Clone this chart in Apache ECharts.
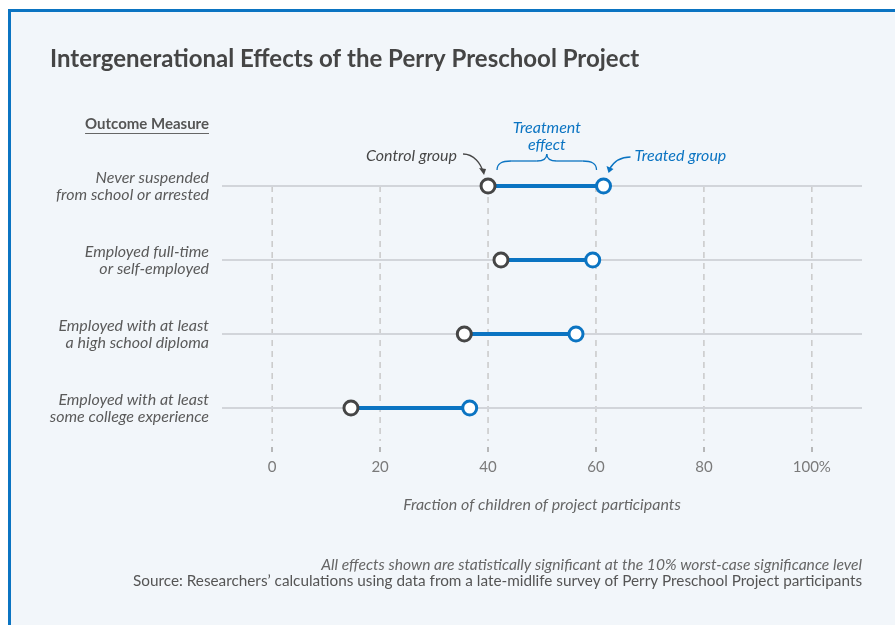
<!DOCTYPE html>
<html><head><meta charset="utf-8">
<script src="https://cdn.jsdelivr.net/npm/echarts@6/dist/echarts.min.js"></script>
<style>html,body{margin:0;padding:0;background:#fff}#chart{width:895px;height:625px}</style>
</head><body><div id="chart"></div>
<script>
const FONT = 'Lato';
const titleText = 'Intergenerational Effects of the Perry Preschool Project';
const categories = [
  'Never suspended\nfrom school or arrested',
  'Employed full-time\nor self-employed',
  'Employed with at least\na high school diploma',
  'Employed with at least\nsome college experience'
];
const controlValues = [40, 42.4, 35.6, 14.6];
const treatedValues = [61.4, 59.4, 56.3, 36.6];
const tickValues = [0, 20, 40, 60, 80, 100];
const tickLabels = ['0', '20', '40', '60', '80', '100%'];
const axisName = 'Fraction of children of project participants';
const footnote1 = 'All effects shown are statistically significant at the 10% worst-case significance level';
const footnote2 = 'Source: Researchers\u2019 calculations using data from a late-midlife survey of Perry Preschool Project participants';

const BLUE = '#0b74c2';
const DARK = '#464646';

const chart = echarts.init(document.getElementById('chart'));
const option = {
  animation: false,
  textStyle: { fontFamily: FONT },
  title: {
    text: titleText, left: 45, top: 42,
    textStyle: { fontFamily: FONT, fontSize: 24, fontWeight: 'bold', color: '#454545' }
  },
  grid: { left: 222, right: 33, top: 149, height: 296 },
  xAxis: {
    type: 'value', min: -9.3, max: 109.3, offset: 2,
    axisLine: { lineStyle: { color: '#a3a3a3', width: 2 } },
    axisTick: { show: true, customValues: tickValues, length: 5, lineStyle: { color: '#a3a3a3', width: 1.5 } },
    axisLabel: {
      customValues: tickValues, margin: 13,
      formatter: v => tickLabels[tickValues.indexOf(v)],
      color: '#7a7a7a', fontSize: 15, fontFamily: FONT
    },
    splitLine: { show: false },
    name: axisName, nameLocation: 'middle', nameGap: 50,
    nameTextStyle: { fontStyle: 'italic', color: '#666', fontSize: 16, fontFamily: FONT }
  },
  yAxis: {
    type: 'category', data: categories, inverse: true,
    axisLine: { show: false }, axisTick: { show: false }, splitLine: { show: false },
    axisLabel: {
      margin: 13, align: 'right', lineHeight: 17,
      fontStyle: 'italic', color: '#5a5a5a', fontSize: 16, fontFamily: FONT
    }
  },
  series: [
    {
      type: 'custom', z: 1, silent: true,
      data: tickValues.map(v => [v]),
      renderItem: (params, api) => {
        const top = api.coord([api.value(0), 0]);
        const cs = params.coordSys;
        return { type: 'line', shape: { x1: top[0], y1: top[1], x2: top[0], y2: cs.y + cs.height - 4 },
          style: { stroke: '#c9c9c9', lineWidth: 1.5, lineDash: [6, 5] } };
      }
    },
    {
      type: 'custom', z: 2, silent: true,
      data: categories.map((c, i) => [i]),
      renderItem: (params, api) => {
        const p = api.coord([0, api.value(0)]);
        const cs = params.coordSys;
        return { type: 'line', shape: { x1: cs.x, y1: p[1], x2: cs.x + cs.width, y2: p[1] },
          style: { stroke: '#d2d5da', lineWidth: 2 } };
      }
    },
    {
      type: 'custom', z: 3, silent: true,
      data: categories.map((c, i) => [controlValues[i], treatedValues[i], i]),
      renderItem: (params, api) => {
        const a = api.coord([api.value(0), api.value(2)]);
        const b = api.coord([api.value(1), api.value(2)]);
        return { type: 'line', shape: { x1: a[0], y1: a[1], x2: b[0], y2: b[1] },
          style: { stroke: BLUE, lineWidth: 4 } };
      }
    },
    {
      type: 'scatter', z: 4, symbol: 'circle', symbolSize: 14,
      data: controlValues.map((v, i) => [v, i]),
      itemStyle: { color: '#fff', borderColor: DARK, borderWidth: 3, opacity: 1 }
    },
    {
      type: 'scatter', z: 4, symbol: 'circle', symbolSize: 14,
      data: treatedValues.map((v, i) => [v, i]),
      itemStyle: { color: '#fff', borderColor: BLUE, borderWidth: 3, opacity: 1 }
    }
  ]
};
chart.setOption(option);

// annotations positioned from the data coordinates
const pc = chart.convertToPixel({ gridIndex: 0 }, [controlValues[0], 0]);
const pt = chart.convertToPixel({ gridIndex: 0 }, [treatedValues[0], 0]);
const gridRect = chart.getModel().getComponent('grid').coordinateSystem.getRect();
const labelRight = gridRect.x - 13;

const ctx = document.createElement('canvas').getContext('2d');
ctx.font = 'bold 15px ' + FONT;
const hdrW = ctx.measureText('Outcome Measure').width;

const bx1 = pc[0] + 9, bx2 = pt[0] - 7, bm = (bx1 + bx2) / 2, by = pc[1] - 16;
const braceStyle = { stroke: BLUE, lineWidth: 1.3, fill: null };
const bez = (x1, y1, c1x, c1y, c2x, c2y, x2, y2) => ({ type: 'bezierCurve',
  shape: { x1, y1, cpx1: c1x, cpy1: c1y, cpx2: c2x, cpy2: c2y, x2, y2 }, style: braceStyle });
const graphic = [
  { type: 'rect', z: -10, shape: { x: 9.5, y: 10.5, width: 900, height: 700 },
    style: { fill: '#f2f6fa', stroke: BLUE, lineWidth: 3 } },
  { type: 'text', x: labelRight, y: 124, style: { text: 'Outcome Measure', align: 'right', verticalAlign: 'middle',
      font: 'bold 15px ' + FONT, fill: '#555' } },
  { type: 'line', shape: { x1: labelRight - hdrW, y1: 133.5, x2: labelRight, y2: 133.5 }, style: { stroke: '#666', lineWidth: 1 } },
  // control group
  { type: 'text', x: pc[0] - 31, y: pc[1] - 30, style: { text: 'Control group', align: 'right', verticalAlign: 'middle',
      font: 'italic 16px ' + FONT, fill: DARK } },
  { type: 'bezierCurve', shape: { x1: pc[0] - 25, y1: pc[1] - 32, cpx1: pc[0] - 14, cpy1: pc[1] - 32, cpx2: pc[0] - 7, cpy2: pc[1] - 22, x2: pc[0] - 5, y2: pc[1] - 14 },
    style: { stroke: DARK, lineWidth: 1.3, fill: null } },
  { type: 'polygon', shape: { points: [[pc[0] - 4, pc[1] - 11], [pc[0] - 9, pc[1] - 18], [pc[0] - 2, pc[1] - 17]] }, style: { fill: DARK } },
  // treated group
  { type: 'text', x: pt[0] + 31, y: pc[1] - 30, style: { text: 'Treated group', align: 'left', verticalAlign: 'middle',
      font: 'italic 16px ' + FONT, fill: BLUE } },
  { type: 'bezierCurve', shape: { x1: pt[0] + 27, y1: pt[1] - 29, cpx1: pt[0] + 16, cpy1: pt[1] - 29, cpx2: pt[0] + 10, cpy2: pt[1] - 24, x2: pt[0] + 6, y2: pt[1] - 17 },
    style: { stroke: BLUE, lineWidth: 1.3, fill: null } },
  { type: 'polygon', shape: { points: [[pt[0] + 5, pt[1] - 13], [pt[0] + 3, pt[1] - 20], [pt[0] + 10, pt[1] - 17]] }, style: { fill: BLUE } },
  // treatment effect brace
  bez(bx1, by, bx1, by - 7, bx1 + 5, by - 9, bx1 + 14, by - 9),
  { type: 'line', shape: { x1: bx1 + 14, y1: by - 9, x2: bm - 10, y2: by - 9 }, style: braceStyle },
  bez(bm - 10, by - 9, bm - 3, by - 9, bm, by - 11, bm, by - 16),
  bez(bm, by - 16, bm, by - 11, bm + 3, by - 9, bm + 10, by - 9),
  { type: 'line', shape: { x1: bm + 10, y1: by - 9, x2: bx2 - 14, y2: by - 9 }, style: braceStyle },
  bez(bx2 - 14, by - 9, bx2 - 5, by - 9, bx2, by - 7, bx2, by),
  { type: 'text', x: bm, y: pc[1] - 50, style: { text: 'Treatment\neffect', align: 'center', verticalAlign: 'middle',
      lineHeight: 17, font: 'italic 16px ' + FONT, fill: BLUE } },
  // footnotes
  { type: 'text', x: gridRect.x + gridRect.width, y: 565, style: { text: footnote1, align: 'right', verticalAlign: 'middle',
      font: 'italic 15.6px ' + FONT, fill: '#666' } },
  { type: 'text', x: gridRect.x + gridRect.width, y: 581, style: { text: footnote2, align: 'right', verticalAlign: 'middle',
      font: '15.3px ' + FONT, fill: '#555' } }
];
chart.setOption({ graphic: graphic });
</script></body></html>
